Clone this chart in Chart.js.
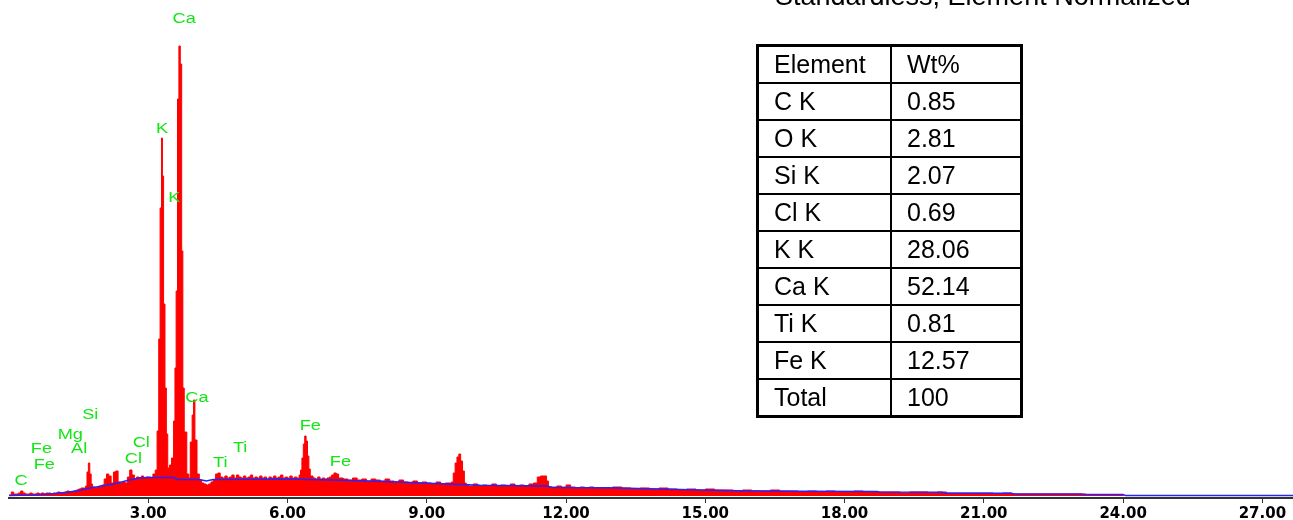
<!DOCTYPE html>
<html>
<head>
<meta charset="utf-8">
<script src="https://cdn.jsdelivr.net/npm/chart.js@4.4.1/dist/chart.umd.min.js"></script>
<style>
  body { margin: 0; background: #fff; }
  #wrap { position: relative; width: 1293px; height: 520px; overflow: hidden; background: #fff; }
  #spec { position: absolute; left: 0; top: 0; }
  #title { position: absolute; left: 775px; top: -17px; font: 27px "Liberation Sans", Arial, sans-serif; line-height: 27px; color: #000; white-space: nowrap; }
  #wt { position: absolute; left: 756px; top: 44px; width: 267px; height: 374px; border-collapse: collapse; border: 3px solid #000; font: 25px "Liberation Sans", Arial, sans-serif; color: #000; }
  #wt td { border: 2px solid #000; padding: 0 0 0 15px; line-height: 25px; }
  #wt td:first-child { width: 116px; }
</style>
</head>
<body>
<div id="wrap">
  <canvas id="spec" width="1293" height="520"></canvas>
  <div id="title">Standardless, Element Normalized</div>
  <table id="wt"></table>
</div>
<script>
// spectrum channels (keV) and counts
var specKeV = [
  0.00, 0.05, 0.10, 0.15, 0.20, 0.25, 0.30, 0.35, 0.40, 0.45, 0.50, 0.55, 0.60, 0.65, 0.70, 0.75, 0.80, 0.85, 0.90, 0.95,
  1.00, 1.05, 1.10, 1.15, 1.20, 1.25, 1.30, 1.35, 1.40, 1.45, 1.50, 1.55, 1.60,
  1.65, 1.68, 1.71, 1.74, 1.77, 1.80,
  1.85, 1.90, 1.95, 2.00, 2.05, 2.10, 2.15, 2.20, 2.25, 2.30, 2.35, 2.40, 2.45, 2.50, 2.55, 2.60, 2.65, 2.70, 2.75, 2.80, 2.85, 2.90, 2.95, 3.00, 3.05, 3.10,
  3.15, 3.19, 3.225, 3.255, 3.285, 3.305, 3.33, 3.36, 3.39, 3.42, 3.46, 3.50, 3.545, 3.575, 3.60, 3.63, 3.66, 3.69, 3.72, 3.745, 3.775, 3.83, 3.875, 3.905, 3.945, 3.975, 4.005, 4.05, 4.10,
  4.15, 4.20, 4.25, 4.30, 4.35, 4.40, 4.45, 4.50, 4.55, 4.60, 4.65, 4.70, 4.75, 4.80, 4.85, 4.90, 4.95, 5.00, 5.05, 5.10, 5.15, 5.20, 5.25, 5.30, 5.35, 5.40, 5.45, 5.50, 5.55, 5.60, 5.65, 5.70, 5.75, 5.80, 5.85, 5.90, 5.95, 6.00, 6.05, 6.10, 6.15, 6.20,
  6.25, 6.28, 6.31, 6.34, 6.37, 6.40, 6.43, 6.46, 6.49, 6.55, 6.60, 6.65, 6.70, 6.75, 6.80, 6.85, 6.90, 6.95, 7.00, 7.05, 7.10,
  7.2, 7.3, 7.4, 7.5, 7.6, 7.7, 7.8, 7.9, 8.0, 8.1, 8.2, 8.3, 8.4, 8.5, 8.6, 8.7, 8.8, 8.9, 9.0, 9.1, 9.2, 9.3, 9.4, 9.5,
  9.53, 9.57, 9.61, 9.65, 9.69, 9.73, 9.77, 9.81, 9.85,
  9.9, 10.0, 10.1, 10.2, 10.3, 10.4, 10.5, 10.6, 10.7, 10.8, 10.9, 11.0, 11.1, 11.2, 11.3, 11.38, 11.45, 11.52, 11.58, 11.62, 11.7, 11.8, 11.9, 12.0, 12.1, 12.2, 12.3, 12.4, 12.5, 12.6,
  12.8, 13.0, 13.2, 13.4, 13.6, 13.8, 14.0, 14.2, 14.4, 14.6, 14.8, 15.0, 15.2, 15.4, 15.6, 15.8, 16.0, 16.2, 16.4, 16.6, 16.8, 17.0, 17.2, 17.4, 17.6, 17.8,
  18.0, 18.2, 18.4, 18.6, 18.8, 19.0, 19.2, 19.4, 19.6, 19.8, 20.0, 20.2, 20.4, 20.6, 20.8, 21.0, 21.2, 21.4, 21.6, 21.8, 22.0, 22.2, 22.4, 22.6, 22.8, 23.0, 23.2, 23.4, 23.6, 23.8, 24.0
];
var specCounts = [
  1, 4, 2, 2, 3, 5, 3, 2, 2, 3, 2, 2, 3, 2, 3, 2, 3, 3, 2, 3,
  3, 4, 3, 3, 4, 5, 4, 4, 5, 6, 7, 8, 8,
  10, 24, 33, 22, 12, 9,
  8, 9, 10, 11, 17, 22, 20, 13, 24, 25, 14, 13, 14, 13, 19, 26, 21, 17, 19, 18, 20, 18, 19, 19, 18, 22,
  26, 65, 157, 288, 358, 320, 192, 108, 62, 28, 31, 38, 75, 128, 205, 397, 450, 432, 245, 108, 64, 22, 18, 54, 81, 96, 56, 22, 16,
  13, 12, 11, 12, 14, 16, 22, 23, 19, 18, 20, 18, 19, 21, 18, 21, 19, 18, 20, 18, 19, 21, 18, 19, 18, 20, 18, 19, 17, 19, 18, 20, 18, 19, 21, 18, 19, 18, 20, 18, 19, 18,
  21, 26, 38, 52, 60, 55, 40, 27, 20, 18, 17, 19, 17, 18, 17, 18, 19, 21, 23, 22, 18,
  17, 16, 18, 16, 17, 15, 17, 16, 15, 17, 15, 14, 16, 14, 13, 15, 13, 14, 13, 12, 14, 12, 13, 13,
  14, 23, 33, 39, 42, 35, 25, 13, 11,
  10, 12, 10, 11, 10, 12, 10, 11, 10, 12, 10, 11, 10, 12, 13, 19, 20, 20, 15, 9, 9, 10, 9, 11, 9, 8, 9, 8, 9, 8,
  8, 9, 8, 7, 8, 7, 8, 7, 6, 7, 6, 7, 6, 6, 5, 6, 5, 5, 6, 5, 5, 4, 5, 4, 5, 4,
  4, 5, 4, 4, 4, 4, 3, 4, 4, 3, 4, 3, 3, 3, 3, 3, 2, 3, 2, 2, 2, 2, 2, 2, 2, 2, 1, 1, 1, 1, 0
];

// fitted background (blue line)
var bgKeV = [0.0, 0.5, 1.0, 1.3, 1.55, 1.75, 2.0, 2.3, 2.55, 2.8, 3.0, 3.55, 3.62, 4.1, 4.25, 4.4, 6.0, 7.2, 8.4, 8.9, 10.15, 11.6, 11.7, 12.9, 14.9, 15.7, 17.0, 18.7, 18.75, 20.1, 20.15, 21.6, 21.65, 23.1, 23.15, 24.0, 24.05, 27.7];
var bgCounts = [0.5, 1, 2.5, 4, 6, 8, 10, 12.5, 15.5, 18, 18.5, 18.5, 16.5, 16.5, 15, 16.5, 17, 15.7, 14, 13, 10.7, 10, 8.5, 8.3, 6, 5.3, 4.7, 4.5, 4, 3.8, 2.8, 2.7, 2, 2, 1.4, 1.4, 0.5, 0.5];

// peak labels: text, energy (keV), height
var peakText = ['C', 'Fe', 'Fe', 'Mg', 'Al', 'Si', 'Cl', 'Cl', 'K', 'K', 'Ca', 'Ca', 'Ti', 'Ti', 'Fe', 'Fe'];
var peakKeV = [0.26, 0.70, 0.76, 1.32, 1.51, 1.75, 2.85, 2.68, 3.30, 3.56, 3.775, 4.05, 4.98, 4.55, 6.49, 7.14];
var peakLevel = [15, 47, 31, 61, 47, 81, 53, 37, 367, 298, 477, 98, 48, 33, 70, 34];

var xTickValues = [3, 6, 9, 12, 15, 18, 21, 24, 27];

var elements = ['Element', 'C K', 'O K', 'Si K', 'Cl K', 'K K', 'Ca K', 'Ti K', 'Fe K', 'Total'];
var wtPct = ['Wt%', '0.85', '2.81', '2.07', '0.69', '28.06', '52.14', '0.81', '12.57', '100'];

// results table
var tbl = document.getElementById('wt');
for (var i = 0; i < elements.length; i++) {
  var tr = document.createElement('tr');
  var a = document.createElement('td');
  a.textContent = elements[i];
  var b = document.createElement('td');
  b.textContent = wtPct[i];
  tr.appendChild(a);
  tr.appendChild(b);
  tbl.appendChild(tr);
}

var peakLabels = {
  id: 'peakLabels',
  afterDatasetsDraw: function (chart) {
    var ctx = chart.ctx;
    var xs = chart.scales.x, ys = chart.scales.y;
    ctx.save();
    ctx.fillStyle = '#14e614';
    ctx.font = '14px "Liberation Sans", Arial, sans-serif';
    ctx.textAlign = 'center';
    ctx.textBaseline = 'middle';
    for (var i = 0; i < peakText.length; i++) {
      var px = xs.getPixelForValue(peakKeV[i]);
      var py = ys.getPixelForValue(peakLevel[i]);
      ctx.save();
      ctx.translate(px, py);
      ctx.scale(1.3, 1);
      ctx.fillText(peakText[i], 0, 0);
      ctx.restore();
    }
    ctx.restore();
  }
};

var ctx = document.getElementById('spec').getContext('2d');
new Chart(ctx, {
  type: 'line',
  data: {
    datasets: [{
      data: bgKeV.map(function (e, i) { return { x: e, y: bgCounts[i] }; }),
      borderColor: '#2424ff',
      borderWidth: 1.5,
      pointRadius: 0,
      fill: false,
      tension: 0
    }, {
      data: specKeV.map(function (e, i) { return { x: e, y: specCounts[i] }; }),
      borderColor: '#ff0000',
      backgroundColor: '#ff0000',
      borderWidth: 1,
      pointRadius: 0,
      stepped: 'before',
      fill: 'origin'
    }]
  },
  options: {
    responsive: false,
    animation: false,
    devicePixelRatio: 1,
    layout: { padding: { left: 9, right: 0, top: 0, bottom: 0 } },
    plugins: {
      legend: { display: false },
      tooltip: { enabled: false }
    },
    scales: {
      x: {
        type: 'linear',
        min: 0,
        max: 27.66,
        border: { display: true, color: '#333', width: 2 },
        grid: { drawOnChartArea: false, drawTicks: true, tickLength: 5, color: '#333', lineWidth: 1 },
        ticks: {
          color: '#000',
          font: { family: '"DejaVu Sans", Verdana, sans-serif', size: 15, weight: 'bold' },
          padding: 2,
          maxRotation: 0,
          autoSkip: false,
          callback: function (v) { return Number(v).toFixed(2); }
        },
        afterBuildTicks: function (s) {
          s.ticks = xTickValues.map(function (v) { return { value: v }; });
        },
        afterFit: function (s) { s.height = 22; }
      },
      y: {
        display: false,
        min: -2,
        max: 496
      }
    }
  },
  plugins: [peakLabels]
});
</script>
</body>
</html>
